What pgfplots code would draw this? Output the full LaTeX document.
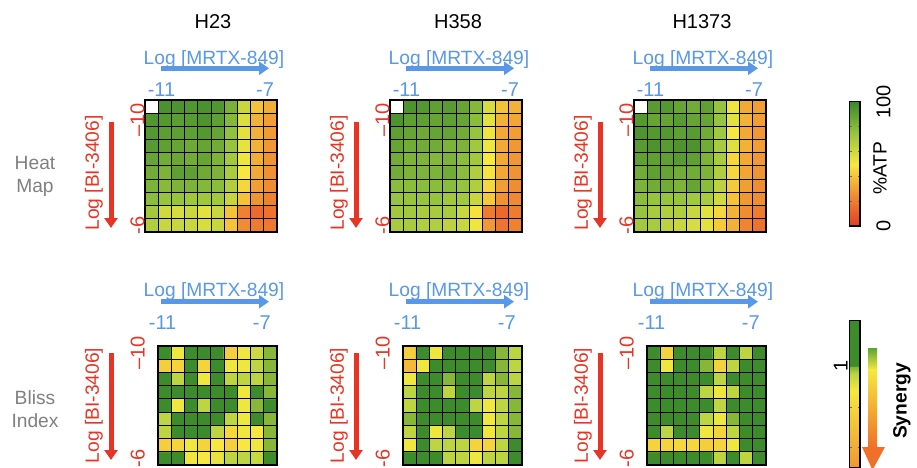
\documentclass[border=0pt]{standalone}
\usepackage{pgfplots}
\pgfplotsset{compat=1.18}
\usepackage{fontspec}
\setmainfont{Liberation Sans}
\usetikzlibrary{arrows.meta}

\definecolor{drugblue}{RGB}{88,152,232}
\definecolor{drugred}{RGB}{232,52,36}
\definecolor{rowgray}{RGB}{128,128,128}
\definecolor{syngreen}{RGB}{90,165,48}
\definecolor{synyellow}{RGB}{246,232,62}
\definecolor{synorange}{RGB}{240,112,40}

\newcommand{\lbl}{\fontsize{9.6}{11.5}\selectfont}
\newcommand{\tck}{\fontsize{10}{12}\selectfont}

\pgfplotsset{
  colormap={atp}{rgb255(0pt)=(230,58,35) rgb255(25pt)=(240,140,50) rgb255(50pt)=(246,232,62) rgb255(75pt)=(150,196,62) rgb255(100pt)=(58,136,42)},
  colormap={bliss}{rgb255(0pt)=(230,58,35) rgb255(450pt)=(240,140,50) rgb255(880pt)=(246,232,62) rgb255(965pt)=(185,212,65) rgb255(1000pt)=(125,178,52) rgb255(1001pt)=(60,140,44) rgb255(1225pt)=(60,140,44)},
  cells/.style={
    scale only axis, axis on top, enlargelimits=false,
    xmin=0.5, ymin=0.5,
    major tick length=0pt, minor tick length=0pt,
    grid=minor,
    minor grid style={black, line width=0.5pt},
    axis line style={black, line width=0.6pt},
    xticklabel pos=upper,
    xticklabels={-11,-7},
    ytick={1,9}, yticklabels={-6,--10},
  },
  heat/.style={cells, width=66pt, height=66pt, xmax=10.5, ymax=10.5,
    minor xtick={0.5,1.5,...,10.5}, minor ytick={0.5,1.5,...,10.5},
    xtick={1.75,9.6},
    xticklabel style={drugblue, font=\tck, anchor=south, inner sep=0pt, yshift=1.5pt},
    yticklabel style={drugred, font=\tck, rotate=90, anchor=south, inner sep=0pt},
    colormap name=atp, point meta min=0, point meta max=100},
  bliss/.style={cells, width=59.5pt, height=59.5pt, xmax=9.5, ymax=9.5,
    minor xtick={0.5,1.5,...,9.5}, minor ytick={0.5,1.5,...,9.5},
    xtick={0.85,8.35},
    xticklabel style={drugblue, font=\tck, anchor=south, inner sep=0pt, yshift=8pt},
    yticklabel style={drugred, font=\tck, xshift=-6.35pt, rotate=90, anchor=south, inner sep=0pt},
    colormap name=bliss, point meta min=0, point meta max=1.225},
}

\begin{document}
\begin{tikzpicture}
\useasboundingbox (0,0) rectangle (458.5pt,233.5pt);
\clip (0,0) rectangle (458.5pt,233.5pt);

% ---------------- row labels ----------------
\node[rowgray, font=\lbl, align=center] at (17.5pt,145.25pt) {Heat\\Map};
\node[rowgray, font=\lbl, align=center] at (17.5pt,29pt) {Bliss\\Index};

% ---------------- cell line titles ----------------
\node[anchor=base, font=\tck] at (106.5pt,219pt) {H23};
\node[anchor=base, font=\tck] at (229pt,219pt) {H358};
\node[anchor=base, font=\tck] at (351pt,219pt) {H1373};

% ---------------- drug axis annotations ----------------
\foreach \xr in {138.5,261,383}{
  \node[anchor=base, drugblue, font=\lbl] at ({\xr pt-31.5pt},201pt) {Log [MRTX-849]};
  \node[anchor=base, drugblue, font=\lbl] at ({\xr pt-31.5pt},85pt) {Log [MRTX-849]};
  \draw[drugblue, line width=2.6pt, -{Triangle[length=5pt,width=6.5pt]}] ({\xr pt-58pt},199.35pt) -- ({\xr pt-4pt},199.35pt);
  \draw[drugblue, line width=2.6pt, -{Triangle[length=5pt,width=6.5pt]}] ({\xr pt-58pt},82.65pt) -- ({\xr pt-4pt},82.65pt);
  \node[rotate=90, drugred, font=\lbl] at ({\xr pt-91.5pt},147pt) {Log [BI-3406]};
  \node[rotate=90, drugred, font=\lbl] at ({\xr pt-91.5pt},30.75pt) {Log [BI-3406]};
  \draw[drugred, line width=2.5pt, -{Triangle[length=5pt,width=6.5pt]}] ({\xr pt-83pt},172.5pt) -- ({\xr pt-83pt},119.5pt);
  \draw[drugred, line width=2.5pt, -{Triangle[length=5pt,width=6.5pt]}] ({\xr pt-83pt},57pt) -- ({\xr pt-83pt},3.5pt);
}

% ================= heat maps (%ATP) =================
% H23
\begin{axis}[heat, at={(72.5pt,117.5pt)}, anchor=south west]
\addplot[matrix plot*, mesh/cols=10, point meta=explicit] coordinates {
(1,1)[68] (2,1)[62] (3,1)[62] (4,1)[62] (5,1)[58] (6,1)[62] (7,1)[40] (8,1)[25] (9,1)[20] (10,1)[19]
(1,2)[72] (2,2)[60] (3,2)[58] (4,2)[62] (5,2)[55] (6,2)[62] (7,2)[40] (8,2)[22] (9,2)[15] (10,2)[17]
(1,3)[78] (2,3)[75] (3,3)[75] (4,3)[73] (5,3)[73] (6,3)[72] (7,3)[63] (8,3)[40] (9,3)[27] (10,3)[22]
(1,4)[82] (2,4)[79] (3,4)[82] (4,4)[82] (5,4)[80] (6,4)[78] (7,4)[68] (8,4)[45] (9,4)[30] (10,4)[25]
(1,5)[85] (2,5)[82] (3,5)[90] (4,5)[90] (5,5)[86] (6,5)[82] (7,5)[70] (8,5)[50] (9,5)[33] (10,5)[26]
(1,6)[88] (2,6)[85] (3,6)[87] (4,6)[85] (5,6)[88] (6,6)[82] (7,6)[72] (8,6)[52] (9,6)[34] (10,6)[27]
(1,7)[92] (2,7)[90] (3,7)[88] (4,7)[86] (5,7)[88] (6,7)[85] (7,7)[75] (8,7)[54] (9,7)[35] (10,7)[28]
(1,8)[93] (2,8)[91] (3,8)[90] (4,8)[90] (5,8)[93] (6,8)[88] (7,8)[76] (8,8)[55] (9,8)[35] (10,8)[29]
(1,9)[94] (2,9)[93] (3,9)[91] (4,9)[92] (5,9)[95] (6,9)[90] (7,9)[80] (8,9)[57] (9,9)[35] (10,9)[30]
(1,10)[100] (2,10)[96] (3,10)[95] (4,10)[94] (5,10)[96] (6,10)[94] (7,10)[83] (8,10)[62] (9,10)[40] (10,10)[34]
};
\addplot[fill=white, draw=none] coordinates {(0.5,9.5) (1.5,9.5) (1.5,10.5) (0.5,10.5)} -- cycle;
\end{axis}

% H358
\begin{axis}[heat, at={(195pt,117.5pt)}, anchor=south west]
\addplot[matrix plot*, mesh/cols=10, point meta=explicit] coordinates {
(1,1)[70] (2,1)[70] (3,1)[68] (4,1)[68] (5,1)[65] (6,1)[62] (7,1)[52] (8,1)[28] (9,1)[18] (10,1)[22]
(1,2)[72] (2,2)[72] (3,2)[70] (4,2)[70] (5,2)[70] (6,2)[62] (7,2)[48] (8,2)[20] (9,2)[14] (10,2)[20]
(1,3)[75] (2,3)[75] (3,3)[75] (4,3)[75] (5,3)[72] (6,3)[72] (7,3)[62] (8,3)[42] (9,3)[27] (10,3)[24]
(1,4)[78] (2,4)[78] (3,4)[78] (4,4)[78] (5,4)[78] (6,4)[75] (7,4)[68] (8,4)[45] (9,4)[30] (10,4)[25]
(1,5)[85] (2,5)[82] (3,5)[82] (4,5)[82] (5,5)[85] (6,5)[78] (7,5)[68] (8,5)[48] (9,5)[32] (10,5)[27]
(1,6)[85] (2,6)[82] (3,6)[82] (4,6)[80] (5,6)[82] (6,6)[78] (7,6)[72] (8,6)[50] (9,6)[33] (10,6)[28]
(1,7)[88] (2,7)[85] (3,7)[85] (4,7)[85] (5,7)[82] (6,7)[82] (7,7)[72] (8,7)[52] (9,7)[33] (10,7)[28]
(1,8)[90] (2,8)[88] (3,8)[86] (4,8)[88] (5,8)[88] (6,8)[85] (7,8)[75] (8,8)[52] (9,8)[33] (10,8)[30]
(1,9)[95] (2,9)[90] (3,9)[90] (4,9)[88] (5,9)[90] (6,9)[88] (7,9)[78] (8,9)[55] (9,9)[35] (10,9)[32]
(1,10)[100] (2,10)[95] (3,10)[93] (4,10)[90] (5,10)[92] (6,10)[88] (7,10)[80] (8,10)[58] (9,10)[40] (10,10)[35]
};
\addplot[fill=white, draw=none] coordinates {(0.5,9.5) (1.5,9.5) (1.5,10.5) (0.5,10.5)} -- cycle;
\end{axis}

% H1373
\begin{axis}[heat, at={(317pt,117.5pt)}, anchor=south west]
\addplot[matrix plot*, mesh/cols=10, point meta=explicit] coordinates {
(1,1)[72] (2,1)[70] (3,1)[65] (4,1)[62] (5,1)[58] (6,1)[55] (7,1)[42] (8,1)[35] (9,1)[23] (10,1)[17]
(1,2)[75] (2,2)[70] (3,2)[68] (4,2)[68] (5,2)[62] (6,2)[55] (7,2)[45] (8,2)[35] (9,2)[25] (10,2)[20]
(1,3)[78] (2,3)[75] (3,3)[75] (4,3)[75] (5,3)[72] (6,3)[70] (7,3)[60] (8,3)[40] (9,3)[28] (10,3)[25]
(1,4)[82] (2,4)[85] (3,4)[85] (4,4)[82] (5,4)[88] (6,4)[78] (7,4)[65] (8,4)[42] (9,4)[30] (10,4)[25]
(1,5)[85] (2,5)[90] (3,5)[88] (4,5)[85] (5,5)[85] (6,5)[82] (7,5)[68] (8,5)[45] (9,5)[32] (10,5)[27]
(1,6)[90] (2,6)[90] (3,6)[90] (4,6)[92] (5,6)[90] (6,6)[82] (7,6)[70] (8,6)[45] (9,6)[33] (10,6)[28]
(1,7)[92] (2,7)[95] (3,7)[92] (4,7)[95] (5,7)[95] (6,7)[85] (7,7)[70] (8,7)[56] (9,7)[35] (10,7)[30]
(1,8)[95] (2,8)[93] (3,8)[93] (4,8)[90] (5,8)[92] (6,8)[85] (7,8)[72] (8,8)[50] (9,8)[33] (10,8)[28]
(1,9)[93] (2,9)[88] (3,9)[88] (4,9)[92] (5,9)[88] (6,9)[88] (7,9)[75] (8,9)[55] (9,9)[35] (10,9)[30]
(1,10)[100] (2,10)[92] (3,10)[93] (4,10)[88] (5,10)[85] (6,10)[90] (7,10)[75] (8,10)[52] (9,10)[33] (10,10)[30]
};
\addplot[fill=white, draw=none] coordinates {(0.5,9.5) (1.5,9.5) (1.5,10.5) (0.5,10.5)} -- cycle;
\end{axis}

% ================= Bliss index =================
% H23
\begin{axis}[bliss, at={(79pt,1pt)}, anchor=south west]
\addplot[matrix plot*, mesh/cols=9, point meta=explicit] coordinates {
(1,1)[1.1] (2,1)[1.1] (3,1)[0.89] (4,1)[0.88] (5,1)[0.90] (6,1)[0.96] (7,1)[0.96] (8,1)[0.95] (9,1)[1.1]
(1,2)[0.76] (2,2)[0.78] (3,2)[0.89] (4,2)[0.78] (5,2)[0.88] (6,2)[0.76] (7,2)[0.88] (8,2)[0.89] (9,2)[0.995]
(1,3)[0.96] (2,3)[1.1] (3,3)[1.1] (4,3)[1.1] (5,3)[0.96] (6,3)[0.80] (7,3)[0.89] (8,3)[0.88] (9,3)[0.995]
(1,4)[0.96] (2,4)[1.1] (3,4)[1.1] (4,4)[1.1] (5,4)[1.1] (6,4)[0.96] (7,4)[0.89] (8,4)[1.1] (9,4)[0.995]
(1,5)[1.1] (2,5)[0.89] (3,5)[1.1] (4,5)[0.96] (5,5)[1.1] (6,5)[1.1] (7,5)[0.89] (8,5)[0.995] (9,5)[1.1]
(1,6)[1.1] (2,6)[1.1] (3,6)[1.1] (4,6)[1.1] (5,6)[1.1] (6,6)[1.1] (7,6)[0.89] (8,6)[1.1] (9,6)[0.995]
(1,7)[1.1] (2,7)[0.96] (3,7)[1.1] (4,7)[0.89] (5,7)[1.1] (6,7)[0.96] (7,7)[0.96] (8,7)[0.96] (9,7)[0.995]
(1,8)[0.76] (2,8)[0.78] (3,8)[1.1] (4,8)[0.78] (5,8)[1.1] (6,8)[0.89] (7,8)[0.89] (8,8)[0.96] (9,8)[0.995]
(1,9)[1.1] (2,9)[0.89] (3,9)[1.1] (4,9)[1.1] (5,9)[1.1] (6,9)[0.76] (7,9)[0.89] (8,9)[0.94] (9,9)[0.995]
};
\end{axis}

% H358
\begin{axis}[bliss, at={(201.5pt,1pt)}, anchor=south west]
\addplot[matrix plot*, mesh/cols=9, point meta=explicit] coordinates {
(1,1)[1.1] (2,1)[1.1] (3,1)[1.1] (4,1)[0.96] (5,1)[0.96] (6,1)[0.89] (7,1)[0.96] (8,1)[0.96] (9,1)[1.1]
(1,2)[0.89] (2,2)[1.1] (3,2)[0.96] (4,2)[0.96] (5,2)[0.96] (6,2)[0.78] (7,2)[0.78] (8,2)[0.96] (9,2)[1.1]
(1,3)[0.96] (2,3)[1.1] (3,3)[0.89] (4,3)[0.96] (5,3)[1.1] (6,3)[1.1] (7,3)[0.89] (8,3)[0.96] (9,3)[0.995]
(1,4)[0.995] (2,4)[1.1] (3,4)[1.1] (4,4)[1.1] (5,4)[1.1] (6,4)[1.1] (7,4)[0.89] (8,4)[0.96] (9,4)[0.995]
(1,5)[0.96] (2,5)[1.1] (3,5)[1.1] (4,5)[1.1] (5,5)[1.1] (6,5)[0.96] (7,5)[0.89] (8,5)[0.96] (9,5)[0.995]
(1,6)[0.96] (2,6)[1.1] (3,6)[1.1] (4,6)[0.96] (5,6)[1.1] (6,6)[1.1] (7,6)[0.96] (8,6)[0.96] (9,6)[0.995]
(1,7)[0.89] (2,7)[1.1] (3,7)[1.1] (4,7)[0.995] (5,7)[1.1] (6,7)[1.1] (7,7)[0.96] (8,7)[0.995] (9,7)[0.96]
(1,8)[0.66] (2,8)[0.89] (3,8)[1.1] (4,8)[1.1] (5,8)[1.1] (6,8)[1.1] (7,8)[1.1] (8,8)[0.995] (9,8)[0.96]
(1,9)[0.76] (2,9)[1.1] (3,9)[0.89] (4,9)[1.1] (5,9)[1.1] (6,9)[1.1] (7,9)[1.1] (8,9)[0.995] (9,9)[0.96]
};
\end{axis}

% H1373
\begin{axis}[bliss, at={(323.5pt,1pt)}, anchor=south west]
\addplot[matrix plot*, mesh/cols=9, point meta=explicit] coordinates {
(1,1)[1.1] (2,1)[1.1] (3,1)[1.1] (4,1)[1.1] (5,1)[1.1] (6,1)[0.96] (7,1)[1.1] (8,1)[0.96] (9,1)[1.1]
(1,2)[0.78] (2,2)[0.78] (3,2)[0.80] (4,2)[0.80] (5,2)[0.76] (6,2)[0.78] (7,2)[0.89] (8,2)[1.1] (9,2)[1.1]
(1,3)[1.1] (2,3)[0.96] (3,3)[1.1] (4,3)[1.1] (5,3)[0.89] (6,3)[0.78] (7,3)[0.96] (8,3)[1.1] (9,3)[1.1]
(1,4)[1.1] (2,4)[1.1] (3,4)[1.1] (4,4)[1.1] (5,4)[0.96] (6,4)[0.89] (7,4)[0.995] (8,4)[1.1] (9,4)[1.1]
(1,5)[1.1] (2,5)[1.1] (3,5)[1.1] (4,5)[1.1] (5,5)[1.1] (6,5)[0.96] (7,5)[1.1] (8,5)[1.1] (9,5)[1.1]
(1,6)[1.1] (2,6)[1.1] (3,6)[1.1] (4,6)[1.1] (5,6)[0.96] (6,6)[0.89] (7,6)[0.96] (8,6)[1.1] (9,6)[1.1]
(1,7)[1.1] (2,7)[1.1] (3,7)[1.1] (4,7)[1.1] (5,7)[1.1] (6,7)[0.96] (7,7)[1.1] (8,7)[1.1] (9,7)[1.1]
(1,8)[1.1] (2,8)[0.89] (3,8)[1.1] (4,8)[1.1] (5,8)[0.995] (6,8)[0.78] (7,8)[0.96] (8,8)[1.1] (9,8)[1.1]
(1,9)[1.1] (2,9)[0.78] (3,9)[1.1] (4,9)[1.1] (5,9)[1.1] (6,9)[0.96] (7,9)[1.1] (8,9)[0.96] (9,9)[1.1]
};
\end{axis}

% ================= colour scales =================
% (the colour bar is drawn 0.3cm to the right of its host axis)
\begin{axis}[at={(416.1pt,120.5pt)}, anchor=south west, scale only axis,
  width=5.35pt, height=62.15pt, hide axis, xmin=0, xmax=1, ymin=0, ymax=1,
  colormap name=atp, point meta min=0, point meta max=100,
  colorbar,
  colorbar style={at={(parent axis.south west)}, anchor=south west,
    scale only axis, width=5.35pt, height=62.15pt,
    ymin=0, ymax=100,
    ytick={100}, minor ytick={20,40,60,80},
    /pgf/number format/assume math mode=true,
    major tick length=0pt, minor tick length=1.2pt, tick align=inside,
    ytick pos=both, yticklabel pos=right,
    minor tick style={black!60, line width=0.4pt},
    axis line style={black!55, line width=0.4pt},
    yticklabel style={font=\tck, xshift=8pt, rotate=90, anchor=north, inner sep=0pt}}]
\addplot[draw=none] coordinates {(0,0)};
\end{axis}
% lower end of the %ATP scale
\node[font=\tck, rotate=90, anchor=north, inner sep=0pt] at (438pt,120.5pt) {0};
\node[rotate=90, font=\lbl] at (440pt,149.5pt) {\%ATP};

\begin{axis}[at={(416.1pt,-0.5pt)}, anchor=south west, scale only axis,
  width=5.35pt, height=73.65pt, hide axis, xmin=0, xmax=1, ymin=0, ymax=1,
  colormap name=bliss, point meta min=0, point meta max=1.225,
  colorbar,
  colorbar style={at={(parent axis.south west)}, anchor=south west,
    scale only axis, width=5.35pt, height=73.65pt,
    ymin=0, ymax=1.225,
    ytick={0,1}, minor ytick={0.2,0.4,0.6,0.8},
    /pgf/number format/assume math mode=true,
    major tick length=0pt, minor tick length=1.2pt, tick align=inside,
    ytick pos=both, yticklabel pos=left,
    minor tick style={black!60, line width=0.4pt},
    axis line style={black!55, line width=0.4pt},
    yticklabel style={font=\tck, xshift=-0.6pt, rotate=90, anchor=south, inner sep=0pt}}]
\addplot[draw=none] coordinates {(0,0)};
\end{axis}

% synergy direction arrow
\shade[top color=syngreen, bottom color=synyellow] (434pt,59.5pt) rectangle (438.5pt,48.5pt);
\shade[top color=synyellow, bottom color=synorange] (434pt,48.6pt) rectangle (438.5pt,9.9pt);
\fill[synorange] (431pt,10pt) -- (442.5pt,10pt) -- (436.25pt,-1.5pt) -- cycle;
\node[rotate=90, font=\bfseries\lbl] at (451pt,33pt) {Synergy};
\end{tikzpicture}
\end{document}
